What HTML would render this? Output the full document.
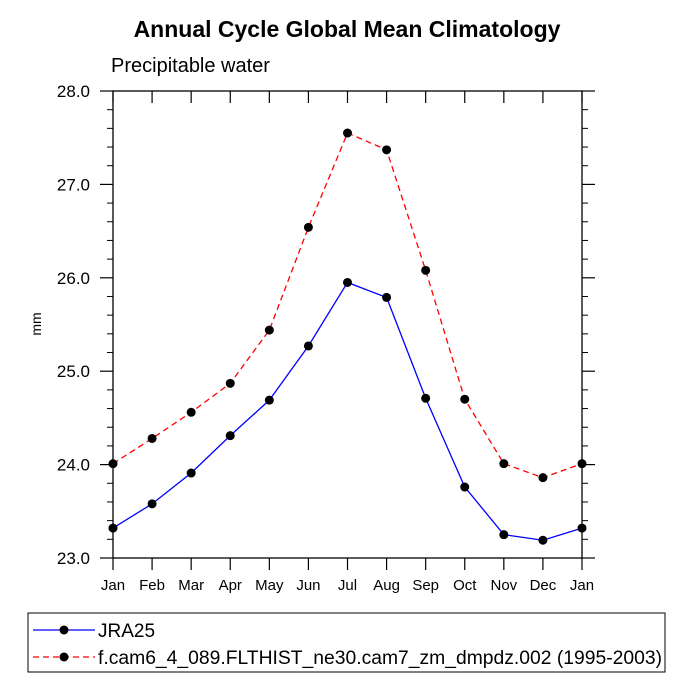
<!DOCTYPE html>
<html><head><meta charset="utf-8"><style>body{margin:0;background:#fff}svg{display:block;font-family:"Liberation Sans",Arial,sans-serif}</style></head>
<body>
<svg id="c" width="694" height="694">
<text x="347" y="37" text-anchor="middle" font-size="23" font-weight="bold">Annual Cycle Global Mean Climatology</text>
<text x="111" y="72" font-size="20">Precipitable water</text>
<text transform="translate(41,324) rotate(-90)" text-anchor="middle" font-size="14">mm</text>
<g id="axes"></g>
<g id="series"></g>
<rect x="28" y="613" width="637" height="59" fill="none" stroke="#000" stroke-width="1"/>
<g>
<line x1="33" y1="630" x2="95" y2="630" stroke="#00f" stroke-width="1.3"/><circle cx="64" cy="630" r="4.5"/>
<text x="98" y="637" font-size="19">JRA25</text></g>
<g>
<line x1="33" y1="657" x2="95" y2="657" stroke="#f00" stroke-width="1.3" stroke-dasharray="6,4"/><circle cx="64" cy="657" r="4.5"/>
<text x="98" y="664" font-size="19" textLength="564" lengthAdjust="spacingAndGlyphs">f.cam6_4_089.FLTHIST_ne30.cam7_zm_dmpdz.002 (1995-2003)</text></g>
</svg>
<script>
const months=["Jan","Feb","Mar","Apr","May","Jun","Jul","Aug","Sep","Oct","Nov","Dec","Jan"];
const jra25=[23.32,23.58,23.91,24.31,24.69,25.27,25.95,25.79,24.71,23.76,23.25,23.19,23.32];
const cam6=[24.01,24.28,24.56,24.87,25.44,26.54,27.55,27.37,26.08,24.70,24.01,23.86,24.01];
const yTicks=["23.0","24.0","25.0","26.0","27.0","28.0"];
const X0=113,X1=582,Y0=558,Y1=91,ymin=23,ymax=28;
const xs=i=>X0+(X1-X0)*i/(months.length-1);
const ys=v=>Y0-(v-ymin)/(ymax-ymin)*(Y0-Y1);
const NS="http://www.w3.org/2000/svg";
function mk(p,t,a){const e=document.createElementNS(NS,t);for(const k in a)e.setAttribute(k,a[k]);p.appendChild(e);return e;}
const ax=document.getElementById('axes');
const fr=mk(ax,'rect',{x:X0,y:Y1,width:X1-X0,height:Y0-Y1,fill:'none',stroke:'#000','stroke-width':1.3});


months.forEach((m,i)=>{const x=xs(i);
mk(ax,'line',{x1:x,y1:Y0,x2:x,y2:Y0+12,stroke:'#000','stroke-width':1.2});
mk(ax,'line',{x1:x,y1:Y1,x2:x,y2:Y1+12,stroke:'#000','stroke-width':1.2});
const t=mk(ax,'text',{x:x,y:Y0+32,'text-anchor':'middle','font-size':15});t.textContent=m;

});
yTicks.forEach((l,i)=>{const v=parseFloat(l),y=ys(v);
mk(ax,'line',{x1:X0-13,y1:y,x2:X0,y2:y,stroke:'#000','stroke-width':1.2});
mk(ax,'line',{x1:X1,y1:y,x2:X1+13,y2:y,stroke:'#000','stroke-width':1.2});
if(i<yTicks.length-1)for(let k=1;k<5;k++){const yy=ys(v+k*0.2);
mk(ax,'line',{x1:X0-6,y1:yy,x2:X0,y2:yy,stroke:'#000','stroke-width':1});
mk(ax,'line',{x1:X1,y1:yy,x2:X1+6,y2:yy,stroke:'#000','stroke-width':1});}
const t=mk(ax,'text',{x:X0-23,y:y+6,'text-anchor':'end','font-size':17});t.textContent=l;

});
const sg=document.getElementById('series');
function draw(vals,col,dash,name){
const p=mk(sg,'polyline',{points:vals.map((v,i)=>xs(i)+','+ys(v)).join(' '),fill:'none',stroke:col,'stroke-width':1.3});
if(dash)p.setAttribute('stroke-dasharray','6,4');


vals.forEach((v,i)=>{const c=mk(sg,'circle',{cx:xs(i),cy:ys(v),r:4.5,fill:'#000'});

});}
draw(cam6,'#f00',true,'cam6');
draw(jra25,'#00f',false,'jra25');
</script>
</body></html>
